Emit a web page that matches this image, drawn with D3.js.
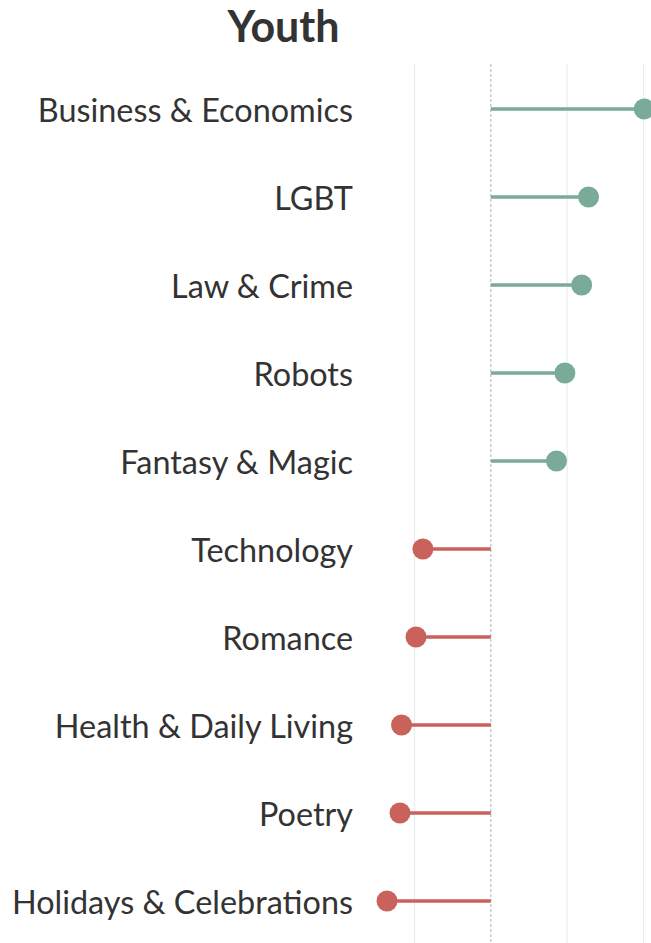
<!DOCTYPE html>
<html>
<head>
<meta charset="utf-8">
<script src="https://cdn.jsdelivr.net/npm/d3@7"></script>
<style>
  body { margin: 0; background: #fff; }
  svg { display: block; font-family: Lato, "Open Sans", sans-serif; }
</style>
</head>
<body>
<svg></svg>
<script>
var categories = ["Business & Economics", "LGBT", "Law & Crime", "Robots", "Fantasy & Magic",
                  "Technology", "Romance", "Health & Daily Living", "Poetry", "Holidays & Celebrations"];
var values = [0.201, 0.128, 0.119, 0.097, 0.086, -0.089, -0.098, -0.117, -0.119, -0.136];
var gridTicks = [-0.1, 0, 0.1, 0.2];
var title = "Youth";

var svgWidth = 651;
var svgHeight = 943;

var svg = d3.select("svg")
    .attr("width", svgWidth)
    .attr("height", svgHeight);

// x scale: value -> pixel
var x = d3.scaleLinear()
    .domain([-0.1, 0.2])
    .range([414.5, 643.5]);

// y: one row per category
var y = d3.scalePoint()
    .domain(categories)
    .range([109, 901]);

// vertical grid lines
svg.selectAll(".grid")
    .data(gridTicks.filter(function(d) { return d !== 0; }))
    .enter()
    .append("line")
    .attr("x1", function(d) { return x(d); })
    .attr("x2", function(d) { return x(d); })
    .attr("y1", 64)
    .attr("y2", svgHeight)
    .attr("stroke", "#ececec")
    .attr("stroke-width", 1.2);

// zero line, dashed
svg.append("line")
    .attr("x1", x(0))
    .attr("x2", x(0))
    .attr("y1", 64)
    .attr("y2", svgHeight)
    .attr("stroke", "#bdbdbd")
    .attr("stroke-width", 1.2)
    .attr("stroke-dasharray", "3,2");

function colour(d) { return d >= 0 ? "#7aab98" : "#c8625a"; }

var rows = svg.selectAll(".row")
    .data(categories)
    .enter()
    .append("g");

// stems
rows.append("line")
    .attr("x1", x(0))
    .attr("x2", function(d, i) { return x(values[i]); })
    .attr("y1", function(d) { return y(d); })
    .attr("y2", function(d) { return y(d); })
    .attr("stroke", function(d, i) { return colour(values[i]); })
    .attr("stroke-width", 3.5);

// dots
rows.append("circle")
    .attr("cx", function(d, i) { return x(values[i]); })
    .attr("cy", function(d) { return y(d); })
    .attr("r", 10.5)
    .attr("fill", function(d, i) { return colour(values[i]); });

// labels
rows.append("text")
    .attr("x", 353)
    .attr("y", function(d) { return y(d); })
    .attr("dy", "0.39em")
    .attr("text-anchor", "end")
    .attr("font-size", 32.4)
    .attr("fill", "#333")
    .text(function(d) { return d; });

// title
svg.append("text")
    .attr("x", 283.5)
    .attr("y", 42)
    .attr("text-anchor", "middle")
    .attr("font-size", 43)
    .attr("font-weight", "bold")
    .attr("fill", "#333")
    .text(title);
</script>
</body>
</html>
